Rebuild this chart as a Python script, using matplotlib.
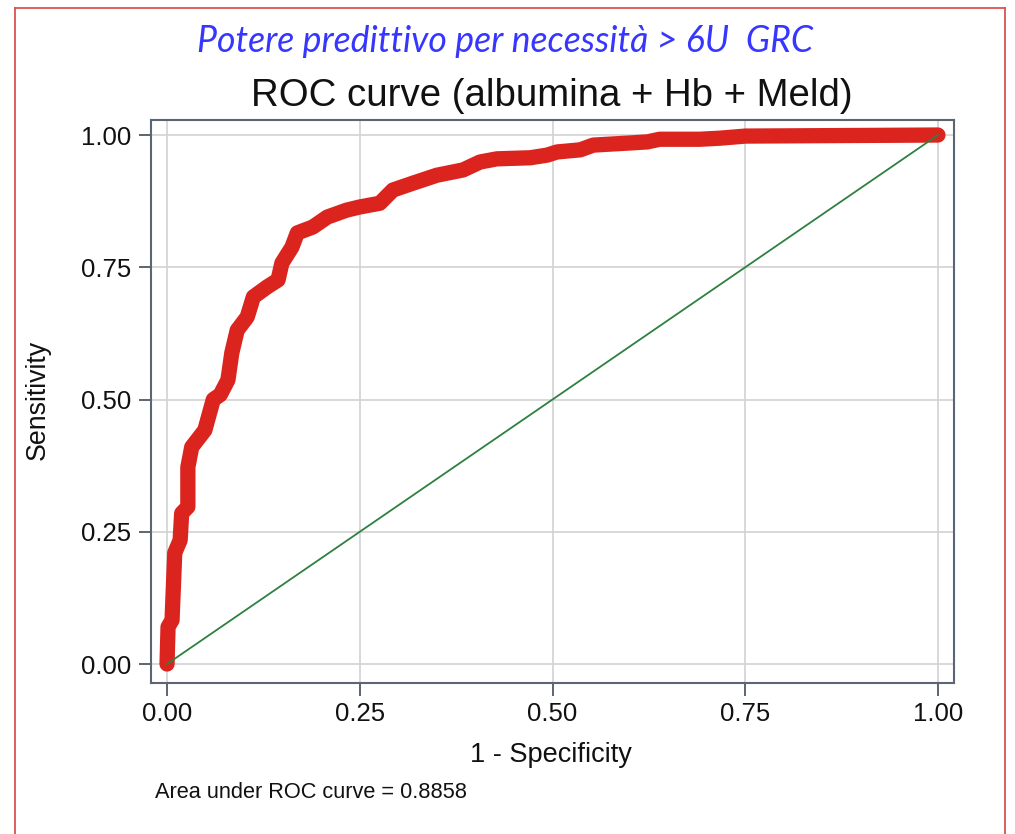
import matplotlib.pyplot as plt
from matplotlib.lines import Line2D

# ROC curve points (1 - specificity, sensitivity)
fpr = [0.0, 0.0013, 0.0065, 0.010, 0.017, 0.019, 0.027, 0.027, 0.032, 0.049,
       0.060, 0.069, 0.079, 0.084, 0.091, 0.104, 0.112, 0.130, 0.144, 0.149,
       0.162, 0.169, 0.189, 0.208, 0.233, 0.250, 0.276, 0.293, 0.319, 0.350,
       0.384, 0.406, 0.428, 0.471, 0.493, 0.506, 0.536, 0.553, 0.601, 0.623,
       0.639, 0.691, 0.717, 0.750, 1.0]
tpr = [0.0, 0.070, 0.083, 0.210, 0.234, 0.285, 0.297, 0.372, 0.410, 0.442,
       0.500, 0.509, 0.537, 0.588, 0.631, 0.656, 0.694, 0.713, 0.726, 0.758,
       0.788, 0.815, 0.826, 0.845, 0.858, 0.864, 0.871, 0.896, 0.909, 0.924,
       0.934, 0.949, 0.955, 0.957, 0.962, 0.968, 0.972, 0.981, 0.985, 0.987,
       0.992, 0.992, 0.994, 0.998, 1.0]
ticks = [0, 0.25, 0.5, 0.75, 1.0]
tick_labels = ["0.00", "0.25", "0.50", "0.75", "1.00"]
auc = 0.8858

plt.rcParams['font.family'] = ['Liberation Sans', 'DejaVu Sans']

frame_col = '#5b6573'
fig = plt.figure(figsize=(10.15, 8.34), dpi=100)
ax = fig.add_axes([151/1015, 1 - 683/834, 803/1015, 563/834])

ax.plot(fpr, tpr, color='#dc241f', lw=11, solid_capstyle='round',
        solid_joinstyle='round', zorder=3)
ax.plot([0, 1], [0, 1], color='#2e8040', lw=1.3, zorder=4)

ax.set_xlim(-0.0208, 1.0208)
ax.set_ylim(-0.0359, 1.0284)
ax.set_xticks(ticks)
ax.set_xticklabels(tick_labels)
ax.set_yticks(ticks)
ax.set_yticklabels(tick_labels)
ax.grid(True, color='#d2d2d2', lw=1.2)
ax.set_axisbelow(True)
for s in ax.spines.values():
    s.set_color(frame_col)
    s.set_linewidth(1.5)
ax.tick_params(direction='out', length=9, width=1.4, color=frame_col,
               labelsize=18.5, labelcolor='#111111', pad=5)

fig.text(551/1015, 1 - 755/834, "1 - Specificity", ha='center', va='center',
         fontsize=19.5, color='#111111')
fig.text(38/1015, 1 - 400/834, "Sensitivity", ha='center', va='center',
         rotation=90, fontsize=19.3, color='#111111')
fig.text(155/1015, 1 - 792/834, "Area under ROC curve = %.4f" % auc,
         ha='left', va='center', fontsize=15.7, color='#111111')
fig.text(552/1015, 1 - 96/834, "ROC curve (albumina + Hb + Meld)",
         ha='center', va='center', fontsize=27.6, color='#111111')
fig.text(505/1015, 1 - 41/834, "Potere predittivo per necessità > 6U  GRC",
         ha='center', va='center', fontsize=25.7, color='#3636ff',
         style='italic', family='Lato')

# red frame around the slide (bottom edge is off the picture)
bc = '#d9534f'
fig.add_artist(Line2D([15/1015, 15/1015], [0, 1 - 8/834], color=bc, lw=1.3))
fig.add_artist(Line2D([15/1015, 1005/1015], [1 - 8/834, 1 - 8/834], color=bc, lw=1.3))
fig.add_artist(Line2D([1005/1015, 1005/1015], [0, 1 - 8/834], color=bc, lw=1.3))

plt.savefig('out.png', dpi=100)
